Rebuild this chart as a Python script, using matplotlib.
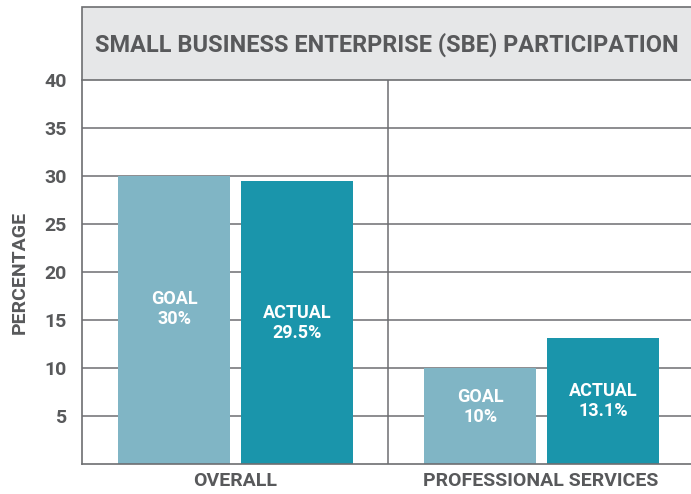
import matplotlib.pyplot as plt
from matplotlib.patches import Rectangle

plt.rcParams['font.family'] = ['Roboto', 'DejaVu Sans']

# data
categories = ["OVERALL", "PROFESSIONAL SERVICES"]
goal = [30, 10]
actual = [29.5, 13.1]
goal_labels = ["GOAL\n30%", "GOAL\n10%"]
actual_labels = ["ACTUAL\n29.5%", "ACTUAL\n13.1%"]
yticks = [5, 10, 15, 20, 25, 30, 35, 40]

c_goal = "#80b5c5"
c_actual = "#1a95ab"
c_text = "#58595b"
c_grid = "#6d6e71"

fig = plt.figure(figsize=(6.91, 4.94), dpi=100)
ax = fig.add_axes([82 / 691, 30 / 494, 609 / 691, 384 / 494])

# title box
fig.patches.append(Rectangle((82 / 691, 414 / 494), 1.0, 73 / 494,
                             transform=fig.transFigure, facecolor="#e6e7e8",
                             edgecolor=c_grid, lw=1.2, zorder=0))
title = fig.text(95 / 691, 449 / 494, "SMALL BUSINESS ENTERPRISE (SBE) PARTICIPATION",
                 color=c_text, fontsize=19, fontweight="bold", va="center", ha="left")
# the original uses a condensed face, so squeeze the size until it fits the box
renderer = fig.canvas.get_renderer()
tw = title.get_window_extent(renderer).width
title.set_fontsize(19 * 582 / tw)

xs = [0.5, 1.5]
w = 0.366
off_g = 0.198
off_a = 0.204
for i in range(len(categories)):
    ax.bar(xs[i] - off_g, goal[i], width=w, color=c_goal, zorder=2)
    ax.bar(xs[i] + off_a, actual[i], width=w, color=c_actual, zorder=2)

# labels inside the bars
goal_y = [16.1, 5.9]
act_y = [14.7, 6.6]
for i in range(len(categories)):
    ax.text(xs[i] - off_g, goal_y[i], goal_labels[i], ha="center", va="center",
            color="white", fontsize=13, fontweight="bold", linespacing=1.15, zorder=3)
    ax.text(xs[i] + off_a, act_y[i], actual_labels[i], ha="center", va="center",
            color="white", fontsize=13, fontweight="bold", linespacing=1.15, zorder=3)

ax.set_xlim(0, 609 / 306)
ax.set_ylim(0, 40)
for t in yticks[:-1]:
    ax.axhline(t, color=c_grid, lw=1.1, zorder=1)
ax.axvline(1, color=c_grid, lw=1.1, zorder=1)

ax.set_yticks(yticks)
ax.set_yticklabels([str(t) for t in yticks], fontsize=14, fontweight="bold", color=c_text)
ax.set_xticks(xs)
ax.set_xticklabels(categories, fontsize=14, fontweight="bold", color=c_text)
ax.tick_params(length=0, axis="y", pad=11)
ax.tick_params(length=0, axis="x", pad=6)

for s in ["top", "right"]:
    ax.spines[s].set_visible(False)
for s in ["left", "bottom"]:
    ax.spines[s].set_color(c_grid)
    ax.spines[s].set_linewidth(1.2)

ax.set_ylabel("PERCENTAGE", fontsize=14, fontweight="bold", color=c_text, labelpad=11)

fig.savefig("out.png", dpi=100)
